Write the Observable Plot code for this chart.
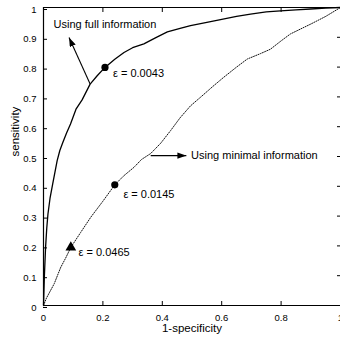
<!DOCTYPE html>
<html><head><meta charset="utf-8">
<script src="https://cdn.jsdelivr.net/npm/d3@7"></script>
<script src="https://cdn.jsdelivr.net/npm/@observablehq/plot@0.6"></script>
<style>
body{margin:0;background:#fff;}
svg{display:block;}
</style></head>
<body><div id="chart"></div>
<script>
// Data
const fullX = [0,0.003,0.007,0.011,0.015,0.022,0.031,0.046,0.055,0.065,0.078,0.091,0.11,0.13,0.157,0.18,0.207,0.24,0.271,0.30,0.338,0.38,0.417,0.46,0.495,0.55,0.596,0.65,0.697,0.75,0.798,0.85,0.899,0.95,1];
const fullY = [0,0.1,0.195,0.26,0.307,0.36,0.408,0.486,0.52,0.547,0.58,0.609,0.66,0.69,0.743,0.77,0.799,0.826,0.849,0.865,0.878,0.9,0.918,0.93,0.939,0.95,0.959,0.97,0.978,0.985,0.989,0.992,0.995,0.998,1];
const minX = [0,0.01,0.036,0.058,0.075,0.092,0.125,0.159,0.2,0.24,0.27,0.305,0.33,0.361,0.395,0.428,0.46,0.495,0.53,0.57,0.607,0.65,0.686,0.73,0.764,0.80,0.831,0.87,0.899,0.95,1];
const minY = [0,0.025,0.073,0.128,0.16,0.195,0.245,0.296,0.35,0.405,0.435,0.464,0.49,0.51,0.545,0.587,0.63,0.67,0.70,0.735,0.766,0.80,0.827,0.845,0.86,0.888,0.911,0.93,0.944,0.97,1];
const circlePts = [{x:0.207,y:0.799},{x:0.24,y:0.405}];
const trianglePts = [{x:0.092,y:0.195}];
const labels = [
  {x:0.034,y:0.942,text:"Using full information"},
  {x:0.234,y:0.779,text:"ε = 0.0043"},
  {x:0.497,y:0.503,text:"Using minimal information"},
  {x:0.269,y:0.374,text:"ε = 0.0145"},
  {x:0.118,y:0.179,text:"ε = 0.0465"}
];
const arrows = [
  {x1:0.157,y1:0.743,x2:0.086,y2:0.899},
  {x1:0.361,y1:0.503,x2:0.481,y2:0.503}
];
const xTicks = [0,0.2,0.4,0.6,0.8,1];
const yTicks = [0,0.1,0.2,0.3,0.4,0.5,0.6,0.7,0.8,0.9,1];
const xTickLabels = ["0","0.2","0.4","0.6","0.8","1"];
const yTickLabels = ["0","0.1","0.2","0.3","0.4","0.5","0.6","0.7","0.8","0.9","1"];

const full = fullX.map((x,i)=>({x, y: fullY[i]}));
const minimal = minX.map((x,i)=>({x, y: minY[i]}));

const filledArrow = (color, context) => {
  const ns = "http://www.w3.org/2000/svg";
  const m = context.document.createElementNS(ns, "marker");
  m.setAttribute("viewBox", "-9 -3.2 9 6.4");
  m.setAttribute("markerWidth", "9");
  m.setAttribute("markerHeight", "6.4");
  m.setAttribute("markerUnits", "userSpaceOnUse");
  m.setAttribute("refX", "0");
  m.setAttribute("refY", "0");
  m.setAttribute("orient", "auto");
  const p = context.document.createElementNS(ns, "path");
  p.setAttribute("d", "M-9,-3.2L0,0L-9,3.2Z");
  p.setAttribute("fill", color);
  p.setAttribute("stroke", "none");
  m.appendChild(p);
  return m;
};

const font = "'Liberation Sans', Arial, Helvetica, sans-serif";
const noLabel = () => "";

const chart = Plot.plot({
  width: 340,
  height: 342,
  marginLeft: 43,
  marginRight: 0,
  marginTop: 7,
  marginBottom: 37,
  style: {fontFamily: font, fontSize: "9.5px", color: "#000", background: "#fff"},
  x: {domain: [0,1]},
  y: {domain: [0,1]},
  marks: [
    Plot.axisX(xTicks, {anchor: "bottom", tickSize: -4, tickPadding: 13, tickFormat: (d,i)=>xTickLabels[i], label: null, fontSize: 9.5}),
    Plot.axisX(xTicks, {anchor: "top", tickSize: -4, tickFormat: noLabel, label: null}),
    Plot.axisY(yTicks, {anchor: "left", tickSize: -4, tickPadding: 11, tickFormat: (d,i)=>yTickLabels[i], label: null, fontSize: 9.5, dy: 2}),
    Plot.axisY(yTicks, {anchor: "right", tickSize: -4, tickFormat: noLabel, label: null}),
    Plot.ruleX([0], {stroke: "#000", strokeWidth: 1.2}),
    Plot.ruleY([0, 1], {stroke: "#000", strokeWidth: 1.2}),
    Plot.line(minimal, {x: "x", y: "y", stroke: "#111", strokeWidth: 1, strokeDasharray: "1 1.4"}),
    Plot.line(full, {x: "x", y: "y", stroke: "#000", strokeWidth: 1.3}),
    Plot.dot(circlePts, {x: "x", y: "y", r: 3.6, fill: "#000", stroke: "none"}),
    Plot.dot(trianglePts, {x: "x", y: "y", r: 4, symbol: "triangle", fill: "#000", stroke: "none"}),
    Plot.link(arrows, {x1: "x1", y1: "y1", x2: "x2", y2: "y2", stroke: "#000", strokeWidth: 1.1, markerEnd: filledArrow}),
    Plot.text(labels, {x: "x", y: "y", text: "text", textAnchor: "start", fontSize: 11, fill: "#000"}),
    Plot.text(["sensitivity"], {frameAnchor: "left", rotate: -90, dx: -28, fontSize: 11.5, fill: "#000"}),
    Plot.text(["1-specificity"], {frameAnchor: "bottom", dy: 26, fontSize: 11.5, fill: "#000"})
  ]
});
document.getElementById("chart").appendChild(chart);
</script>
</body></html>
